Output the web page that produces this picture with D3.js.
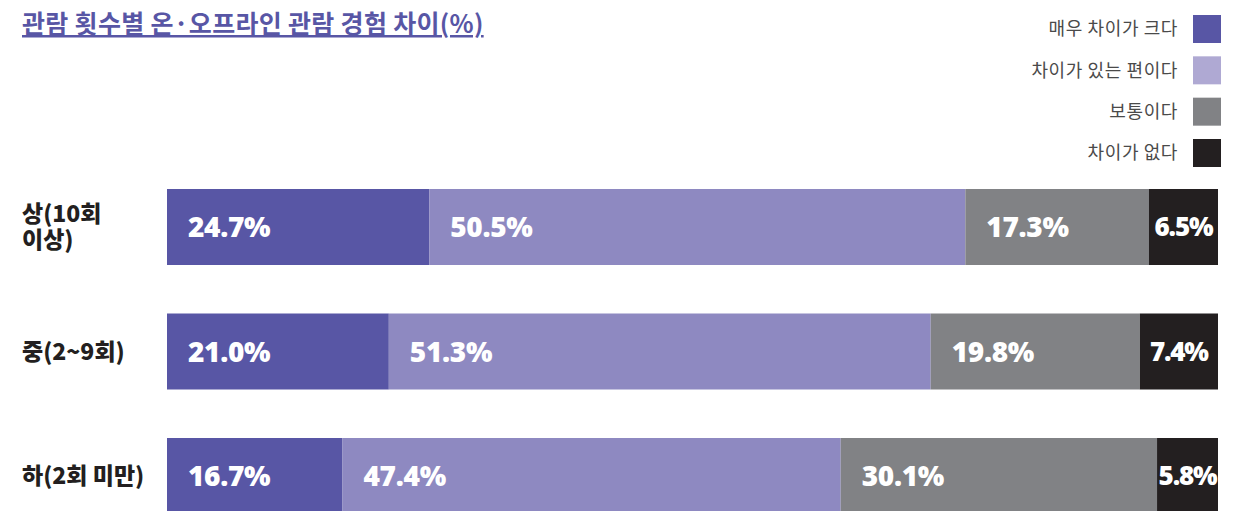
<!DOCTYPE html>
<html>
<head>
<meta charset="utf-8">
<script src="https://cdn.jsdelivr.net/npm/d3@7"></script>
<style>
  body { margin:0; background:#fff; overflow:hidden; }
  svg { display:block; font-family:"Noto Sans CJK KR", "Noto Sans", sans-serif; }
</style>
</head>
<body>
<svg id="chart" width="1252" height="511"></svg>
<script>
// data
var title = "관람 횟수별 온·오프라인 관람 경험 차이(%)";
var groups = [["상(10회", "이상)"], ["중(2~9회)"], ["하(2회 미만)"]];
var keys = ["매우 차이가 크다", "차이가 있는 편이다", "보통이다", "차이가 없다"];
var strong = [24.7, 21.0, 16.7];
var some = [50.5, 51.3, 47.4];
var normal = [17.3, 19.8, 30.1];
var none = [6.5, 7.4, 5.8];

var barColors = ["#5856a5", "#8e89c1", "#818285", "#231f20"];
var legendColors = ["#5856a5", "#afa9d3", "#818285", "#231f20"];

var svg = d3.select("#chart");
var margin = {left:167, right:34};
var width = 1252 - margin.left - margin.right;

var rows = groups.map(function(g, i) {
  return {label:g, values:[strong[i], some[i], normal[i], none[i]]};
});

// step 124.5, bar 76
var y = d3.scaleBand()
    .domain(d3.range(rows.length))
    .range([189, 514])
    .paddingInner(48.5 / 124.5);

// title
svg.append("text")
    .attr("x", 22)
    .attr("y", 33)
    .attr("fill", "#5856a5")
    .attr("font-size", 25)
    .attr("font-weight", "bold")
    .attr("letter-spacing", "0.3px")
    .attr("text-decoration", "underline")
    .text(title);

// legend
var legend = svg.append("g").attr("class", "legend");
var ly = d3.scalePoint().domain(keys).range([29, 153]);
keys.forEach(function(k, i) {
  legend.append("rect")
      .attr("x", 1193)
      .attr("y", ly(k) - 14)
      .attr("width", 28)
      .attr("height", 28)
      .attr("fill", legendColors[i]);
  legend.append("text")
      .attr("x", 1178)
      .attr("y", ly(k))
      .attr("dy", "0.35em")
      .attr("text-anchor", "end")
      .attr("fill", "#4a4a4a")
      .attr("font-size", 18)
      .attr("letter-spacing", "0.6px")
      .text(k);
});

// bars
rows.forEach(function(r, i) {
  var total = d3.sum(r.values);
  var x = d3.scaleLinear().domain([0, total]).range([margin.left, margin.left + width]);
  var g = svg.append("g");
  var acc = 0;
  r.values.forEach(function(v, j) {
    var x0 = x(acc), x1 = x(acc + v);
    acc += v;
    g.append("rect")
        .attr("x", x0)
        .attr("y", y(i))
        .attr("width", x1 - x0)
        .attr("height", y.bandwidth())
        .attr("fill", barColors[j]);
    var last = j == r.values.length - 1;
    g.append("text")
        .attr("x", last ? (x0 + x1) / 2 : x0 + 21)
        .attr("y", y(i) + y.bandwidth() / 2)
        .attr("dy", "0.36em")
        .attr("text-anchor", last ? "middle" : "start")
        .attr("fill", "#fff")
        .attr("font-size", last ? 26 : 28)
        .attr("font-weight", 900)
        .attr("font-family", "'Noto Sans', 'Noto Sans CJK KR', sans-serif")
        .attr("letter-spacing", last ? "-1.2px" : "-0.3px")
        .text(v.toFixed(1) + "%");
  });

  // row label
  var lbl = svg.append("text")
      .attr("x", 22)
      .attr("fill", "#231f20")
      .attr("font-size", 23)
      .attr("font-weight", 900);
  var mid = y(i) + y.bandwidth() / 2;
  r.label.forEach(function(t, k) {
    lbl.append("tspan")
        .attr("x", 22)
        .attr("y", mid + (k - (r.label.length - 1) / 2) * 26)
        .attr("dy", "0.36em")
        .text(t);
  });
});
</script>
</body>
</html>
